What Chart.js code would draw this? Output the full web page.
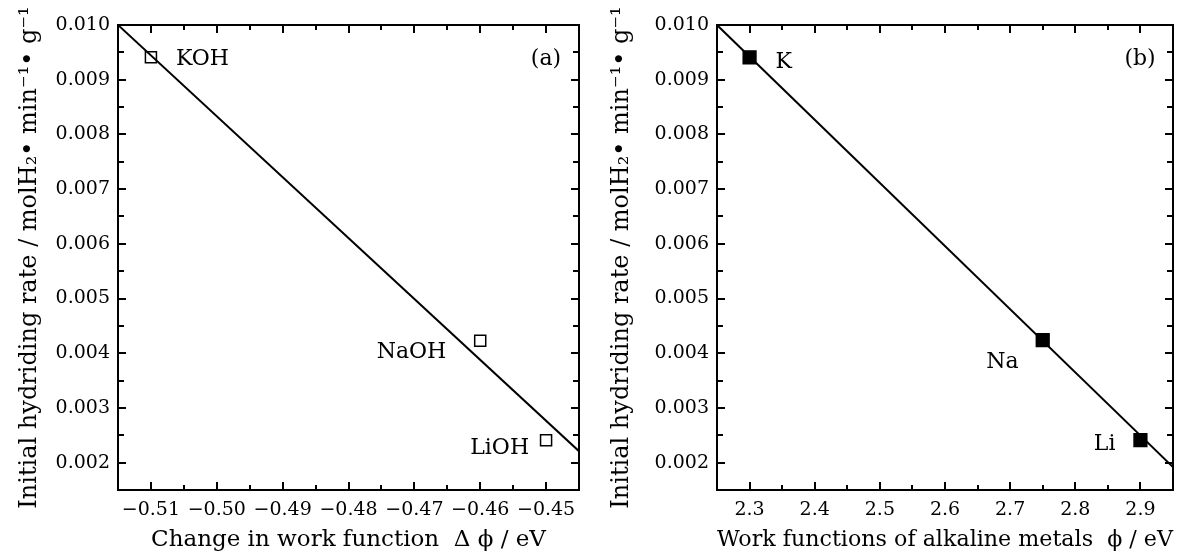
<!DOCTYPE html>
<html>
<head>
<meta charset="utf-8">
<script src="https://cdn.jsdelivr.net/npm/chart.js@4"></script>
<style>
  html, body { margin: 0; padding: 0; background: #fff; }
  #wrap { position: relative; width: 1184px; height: 558px; }
  canvas { position: absolute; top: 0; }
  #chartA { left: 0; }
  #chartB { left: 592px; }
</style>
</head>
<body>
<div id="wrap">
  <canvas id="chartA" width="592" height="558"></canvas>
  <canvas id="chartB" width="592" height="558"></canvas>
</div>
<script>
// (a) hydroxides vs change in work function
var hydroxideLabels = ['KOH', 'NaOH', 'LiOH'];
var deltaPhi = [-0.51, -0.46, -0.45];
var rateA = [0.00941, 0.00423, 0.00241];
var fitAx = [-0.515, -0.445];
var fitAy = [0.0100, 0.00221];

// (b) metals vs work function
var metalLabels = ['K', 'Na', 'Li'];
var workFunction = [2.30, 2.75, 2.90];
var rateB = [0.00941, 0.00424, 0.00241];
var fitBx = [2.25, 2.95];
var fitBy = [0.0100, 0.00192];

var yTitle = 'Initial hydriding rate / molH\u2082\u2022 min\u207B\u00B9\u2022 g\u207B\u00B9';

Chart.defaults.font.family = '"DejaVu Serif", serif';
Chart.defaults.color = '#000';

function nearMultiple(v, step) {
    var r = v / step;
    return Math.abs(r - Math.round(r)) < 1e-6;
}

function toPoints(xs, ys) {
    return xs.map(function(x, i) { return { x: x, y: ys[i] }; });
}

// inward tick marks on all four sides plus the box
var frameTicks = {
    id: 'frameTicks',
    afterDatasetsDraw: function(chart) {
        var ctx = chart.ctx, a = chart.chartArea;
        var xs = chart.scales.x, ys = chart.scales.y;
        var xMajor = chart.options.plugins.frameTicks.xMajor;
        ctx.save();
        ctx.strokeStyle = '#000';
        ctx.lineWidth = 2;
        ctx.beginPath();
        xs.ticks.forEach(function(t) {
            var px = Math.round(xs.getPixelForValue(t.value));
            if (px <= a.left + 2 || px >= a.right - 2) return;
            var len = nearMultiple(t.value, xMajor) ? 8 : 5;
            ctx.moveTo(px, a.bottom); ctx.lineTo(px, a.bottom - len);
            ctx.moveTo(px, a.top); ctx.lineTo(px, a.top + len);
        });
        ys.ticks.forEach(function(t) {
            var py = Math.round(ys.getPixelForValue(t.value));
            if (py <= a.top + 2 || py >= a.bottom - 2) return;
            var len = nearMultiple(t.value, 0.001) ? 8 : 6;
            ctx.moveTo(a.left, py); ctx.lineTo(a.left + len, py);
            ctx.moveTo(a.right, py); ctx.lineTo(a.right - len, py);
        });
        ctx.stroke();
        ctx.strokeRect(a.left, a.top, a.width, a.height);
        ctx.restore();
    }
};

// point names and panel tag
var pointNames = {
    id: 'pointNames',
    afterDraw: function(chart) {
        var o = chart.options.plugins.pointNames;
        var ctx = chart.ctx, a = chart.chartArea;
        var meta = chart.getDatasetMeta(1);
        ctx.save();
        ctx.fillStyle = '#000';
        ctx.font = '22px "DejaVu Serif", serif';
        ctx.textBaseline = 'middle';
        meta.data.forEach(function(el, i) {
            ctx.textAlign = o.align[i];
            ctx.fillText(o.names[i], el.x + o.dx[i], el.y + o.dy[i]);
        });
        ctx.textAlign = 'center';
        ctx.fillText(o.tag, a.right - 33, a.top + 34);
        ctx.restore();
    }
};

function makeChart(id, cfg) {
    return new Chart(document.getElementById(id), {
        type: 'scatter',
        data: {
            datasets: [{
                data: toPoints(cfg.fitX, cfg.fitY),
                showLine: true,
                borderColor: '#000',
                borderWidth: 2,
                pointRadius: 0,
                order: 2
            }, {
                data: toPoints(cfg.x, cfg.y),
                pointStyle: 'rect',
                pointRadius: cfg.radius,
                pointBorderWidth: 1.5,
                pointBorderColor: '#000',
                pointBackgroundColor: cfg.fill,
                order: 1
            }]
        },
        options: {
            responsive: false,
            animation: false,
            layout: { padding: { top: 25, right: cfg.padRight, left: 0, bottom: 0 } },
            plugins: {
                legend: { display: false },
                tooltip: { enabled: false },
                frameTicks: { xMajor: cfg.xMajor },
                pointNames: { names: cfg.names, dx: cfg.dx, dy: cfg.dy, align: cfg.align, tag: cfg.tag }
            },
            scales: {
                x: {
                    type: 'linear',
                    min: cfg.xMin,
                    max: cfg.xMax,
                    grid: { display: false, drawTicks: false },
                    border: { display: false },
                    afterFit: function(s) { s.height = 68; },
                    ticks: {
                        stepSize: cfg.xMajor / 2,
                        autoSkip: false,
                        maxRotation: 0,
                        padding: 9,
                        font: { size: 19 },
                        callback: function(v) {
                            if (!nearMultiple(v, cfg.xMajor)) return '';
                            return cfg.xFmt(v);
                        }
                    },
                    title: {
                        display: true,
                        text: cfg.xTitle,
                        font: { size: 23, lineHeight: 1.2 },
                        padding: { top: 0, bottom: 4 }
                    }
                },
                y: {
                    type: 'linear',
                    min: 0.0015,
                    max: 0.010,
                    grid: { display: false, drawTicks: false },
                    border: { display: false },
                    afterFit: function(s) { s.width = cfg.yWidth; },
                    ticks: {
                        stepSize: 0.0005,
                        autoSkip: false,
                        padding: 8,
                        font: { size: 19 },
                        callback: function(v) {
                            if (!nearMultiple(v, 0.001) || v < 0.0019) return '';
                            return v.toFixed(3);
                        }
                    },
                    title: {
                        display: true,
                        text: yTitle,
                        font: { size: 24, lineHeight: 1.2 },
                        padding: { top: 15, bottom: 0 }
                    }
                }
            }
        },
        plugins: [frameTicks, pointNames]
    });
}

makeChart('chartA', {
    x: deltaPhi, y: rateA, fitX: fitAx, fitY: fitAy,
    names: hydroxideLabels,
    dx: [25, -34, -17], dy: [2, 12, 8], align: ['left', 'right', 'right'],
    tag: '(a)',
    radius: 7.8, fill: 'rgba(0,0,0,0)',
    xMin: -0.515, xMax: -0.445, xMajor: 0.01,
    xFmt: function(v) { return '\u2212' + Math.abs(v).toFixed(2); },
    xTitle: 'Change in work function  \u0394 \u03D5 / eV',
    yWidth: 118, padRight: 13
});

makeChart('chartB', {
    x: workFunction, y: rateB, fitX: fitBx, fitY: fitBy,
    names: metalLabels,
    dx: [26, -24, -25], dy: [5, 22, 4], align: ['left', 'right', 'right'],
    tag: '(b)',
    radius: 9, fill: '#000',
    xMin: 2.25, xMax: 2.95, xMajor: 0.1,
    xFmt: function(v) { return v.toFixed(1); },
    xTitle: 'Work functions of alkaline metals  \u03D5 / eV',
    yWidth: 125, padRight: 11
});
</script>
</body>
</html>
